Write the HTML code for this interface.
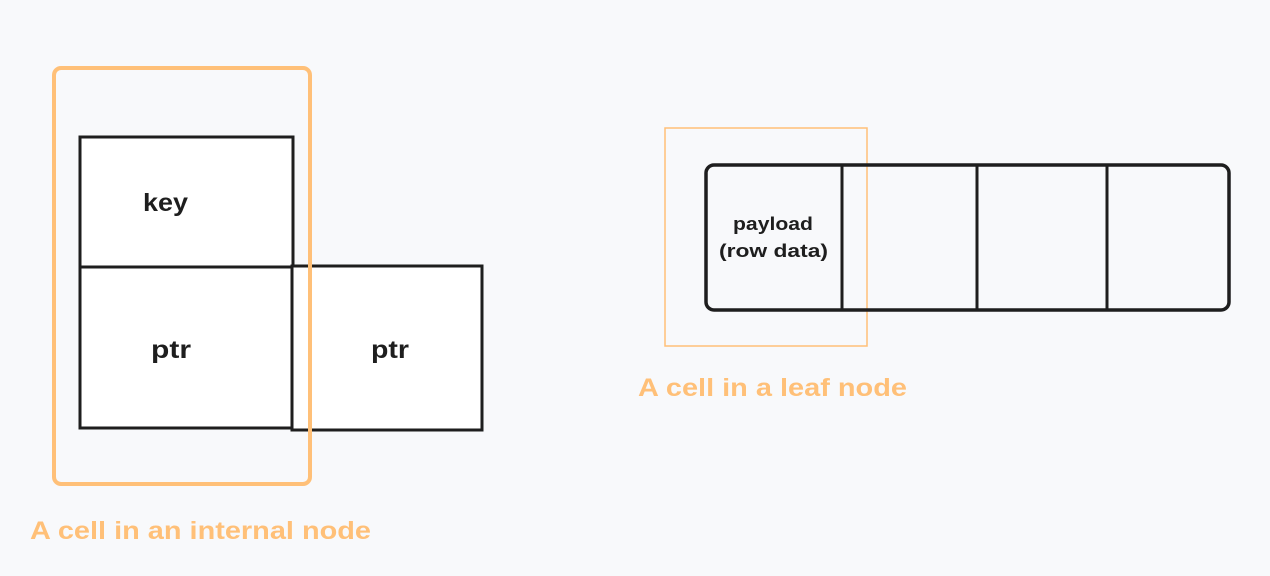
<!DOCTYPE html>
<html><head><meta charset="utf-8"><style>
html,body{margin:0;padding:0;background:#f8f9fb;}
svg{display:block}
text{font-family:"Liberation Sans","DejaVu Sans",sans-serif;font-weight:bold}
</style></head><body>
<svg width="1270" height="576" viewBox="0 0 1270 576" xmlns="http://www.w3.org/2000/svg">
<rect width="1270" height="576" fill="#f8f9fb"/>
<rect x="80" y="137" width="213" height="130" fill="#fff" stroke="#1e1e1e" stroke-width="3"/>
<rect x="80" y="267" width="213" height="161" fill="#fff" stroke="#1e1e1e" stroke-width="3"/>
<rect x="292" y="266" width="190" height="164" fill="#fff" stroke="#1e1e1e" stroke-width="3"/>
<rect x="54" y="68" width="256" height="416" rx="7" fill="none" stroke="#ffc078" stroke-width="4"/>
<text x="143" y="211" font-size="25" fill="#1e1e1e" textLength="45" lengthAdjust="spacingAndGlyphs">key</text>
<text x="151" y="358" font-size="25" fill="#1e1e1e" textLength="40" lengthAdjust="spacingAndGlyphs">ptr</text>
<text x="371" y="358" font-size="25" fill="#1e1e1e" textLength="38" lengthAdjust="spacingAndGlyphs">ptr</text>
<text x="30" y="539" font-size="25" fill="#ffc078" textLength="341" lengthAdjust="spacingAndGlyphs">A cell in an internal node</text>
<rect x="665" y="128" width="202" height="218" fill="none" stroke="#ffc078" stroke-width="1.5"/>
<rect x="706" y="165" width="523" height="145" rx="8" fill="none" stroke="#1e1e1e" stroke-width="3.5"/>
<line x1="842" y1="165" x2="842" y2="310" stroke="#1e1e1e" stroke-width="3"/>
<line x1="977" y1="165" x2="977" y2="310" stroke="#1e1e1e" stroke-width="3"/>
<line x1="1107" y1="165" x2="1107" y2="310" stroke="#1e1e1e" stroke-width="3"/>
<text x="733" y="230" font-size="18" fill="#1e1e1e" textLength="80" lengthAdjust="spacingAndGlyphs">payload</text>
<text x="719" y="257" font-size="18" fill="#1e1e1e" textLength="109" lengthAdjust="spacingAndGlyphs">(row data)</text>
<text x="638" y="396" font-size="25" fill="#ffc078" textLength="269" lengthAdjust="spacingAndGlyphs">A cell in a leaf node</text>
</svg>
</body></html>
